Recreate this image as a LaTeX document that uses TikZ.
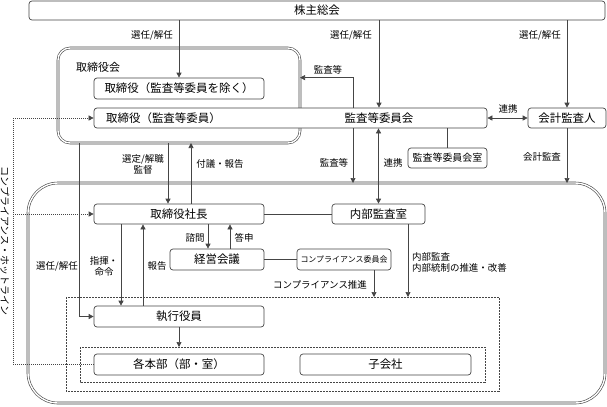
\documentclass[tikz,border=0pt]{standalone}
\usepackage{fontspec}
\setmainfont{Noto Sans CJK JP}
\usetikzlibrary{arrows.meta, positioning}
\definecolor{linegray}{HTML}{454545}

\begin{document}
\begin{tikzpicture}[
    x=1bp, y=-1bp,
    box/.style={
        draw=linegray,
        line width=0.7bp,
        rounded corners=3bp,
        fill=white,
        inner sep=0pt,
        font=\fontsize{11.5}{13}\selectfont,
    },
    group/.style={
        draw=linegray,
        line width=0.6bp,
        double=white,
        double distance=1.4bp,
    },
    dashbox/.style={
        draw=linegray,
        line width=0.7bp,
        dash pattern=on 2bp off 1bp,
    },
    flow/.style={
        draw=linegray,
        line width=0.7bp,
        -{Triangle[length=5bp, width=5bp]},
    },
    twoway/.style={
        flow,
        {Triangle[length=5bp, width=5bp]}-{Triangle[length=5bp, width=5bp]},
    },
    hotline/.style={
        draw=linegray,
        line width=0.7bp,
        dash pattern=on 1bp off 1bp,
    },
    tag/.style={
        font=\fontsize{9.5}{11}\selectfont,
        inner sep=0pt,
        align=center,
    }
]
    \useasboundingbox (0,0) rectangle (607,406);

    % Groups
    \draw[group, rounded corners=12bp] (58,48) rectangle (300,143);
    \node[font=\fontsize{11}{13}\selectfont, anchor=west, inner sep=0pt] (boardtitle) at (76,67) {取締役会};
    \draw[group, rounded corners=30bp] (28,183) rectangle (605,403);
    \draw[dashbox] (66,297) rectangle (499,391);
    \draw[dashbox] (80,347) rectangle (485,382);

    % Bodies
    \node[box, minimum width=576bp, minimum height=19bp] (meeting) at (317,10.5) {株主総会};
    \node[box, minimum width=170bp, minimum height=21bp] (directors) at (179,88.5) {取締役（監査等委員を除く）};
    \node[box, minimum width=393bp, minimum height=20bp] (acb) at (290.5,118) {};
    \node[font=\fontsize{11.5}{13}\selectfont, inner sep=0pt, anchor=west] (acbdir) at (106,118) {取締役（監査等委員）};
    \node[font=\fontsize{11.5}{13}\selectfont, inner sep=0pt] (acbname) at (379,118) {監査等委員会};
    \node[box, minimum width=78bp, minimum height=20bp] (auditor) at (567,118) {会計監査人};
    \node[box, minimum width=79bp, minimum height=20bp, font=\fontsize{10}{12}\selectfont] (acboffice) at (447.5,158) {監査等委員会室};

    % Execution side
    \node[box, minimum width=170bp, minimum height=20bp] (president) at (179,214) {取締役社長};
    \node[box, minimum width=93bp, minimum height=20bp] (internal) at (378.5,214) {内部監査室};
    \node[box, minimum width=94bp, minimum height=21bp] (mgmt) at (217,259.5) {経営会議};
    \node[box, minimum width=94bp, minimum height=21bp, font=\fontsize{8}{10}\selectfont] (compliance) at (344,259.5) {コンプライアンス委員会};
    \node[box, minimum width=170bp, minimum height=21bp] (officers) at (179,316.5) {執行役員};
    \node[box, minimum width=170bp, minimum height=21bp] (divisions) at (179,364.5) {各本部（部・室）};
    \node[box, minimum width=171bp, minimum height=21bp] (subsidiary) at (385.5,364.5) {子会社};

    % Shareholders
    \draw[flow] (directors.north |- meeting.south) -- (directors.north);
    \draw[flow] (acbname |- meeting.south) -- (acbname |- acb.north);
    \draw[flow] (auditor.north |- meeting.south) -- (auditor.north);
    \node[tag] (elect1) at (152,35) {選任/解任};
    \node[tag] (elect2) at (351,35) {選任/解任};
    \node[tag] (elect3) at (540,35) {選任/解任};

    % Audit committee
    \draw[flow] ([xshift=62.5bp]acb.north) |- (directors.north -| 300,0);
    \node[tag] (audit1) at (328,70) {監査等};
    \draw[twoway] (acb.east) -- (auditor.west);
    \node[tag] (link1) at (508,109) {連携};
    \draw[linegray, line width=0.7bp] (acboffice.north |- acb.south) -- (acboffice.north);
    \draw[flow] ([xshift=62.5bp]acb.south) -- ([xshift=62.5bp]acb.south |- 0,183);
    \node[tag] (audit2) at (334,163) {監査等};
    \draw[twoway] (internal.north |- acb.south) -- (internal.north);
    \node[tag] (link2) at (393,163) {連携};
    \draw[flow] (auditor.south) -- (auditor.south |- 0,183);
    \node[tag] (acctaudit) at (542,157) {会計監査};

    % Board to execution
    \draw[flow] ([xshift=-14bp]officers.west |- 0,143) |- (officers.west);
    \node[tag] (elect4) at (57,266) {選任/解任};
    \draw[flow] ([xshift=-11bp]president.north |- 0,143) -- ([xshift=-11bp]president.north);
    \node[tag] (supervise) at (143,164) {選定/解職\\監督};
    \draw[flow] ([xshift=12bp]president.north) -- ([xshift=12bp]president.north |- 0,143);
    \node[tag] (report1) at (220,164) {付議・報告};

    % President
    \draw[linegray, line width=0.7bp] (president.east) -- (internal.west);
    \draw[flow] ([xshift=-9bp]mgmt.north |- president.south) -- ([xshift=-9bp]mgmt.north);
    \node[tag] (consult) at (195,238) {諮問};
    \draw[flow] ([xshift=13bp]mgmt.north) -- ([xshift=13bp]mgmt.north |- president.south);
    \node[tag] (answer) at (244,238) {答申};
    \draw[linegray, line width=0.7bp] (mgmt.east) -- (compliance.west);
    \draw[flow] ([xshift=-58bp]president.south) -- ([xshift=-58bp]president.south |- officers.north);
    \node[tag] (command) at (104,266) {指揮・\\命令};
    \draw[flow] ([xshift=-36bp]officers.north) -- ([xshift=-36bp]officers.north |- president.south);
    \node[tag] (report2) at (157,266) {報告};

    % Promotion
    \draw[flow] ([xshift=30bp]compliance.south) -- ([xshift=30bp]compliance.south |- 0,297);
    \node[tag] (promote) at (320,285) {コンプライアンス推進};
    \draw[flow] ([xshift=29.5bp]internal.south) -- ([xshift=29.5bp]internal.south |- 0,297);
    \node[tag, align=left, anchor=west] (control) at (412,262) {内部監査\\内部統制の推進・改善};
    \draw[flow] (officers.south) -- (officers.south |- 0,347);

    % Hotline
    \coordinate (hotx) at (13,0);
    \draw[hotline] (divisions.west) -| (hotx |- acb.west);
    \draw[hotline, -{Triangle[length=5bp, width=5bp]}] (hotx |- acb.west) -- (acb.west);
    \draw[hotline, -{Triangle[length=5bp, width=5bp]}] (hotx |- president.west) -- (president.west);
    \node[tag, font=\fontsize{10}{12}\selectfont, rotate=-90] (hottext) at (5,241) {コンプライアンス・ホットライン};
\end{tikzpicture}
\end{document}
